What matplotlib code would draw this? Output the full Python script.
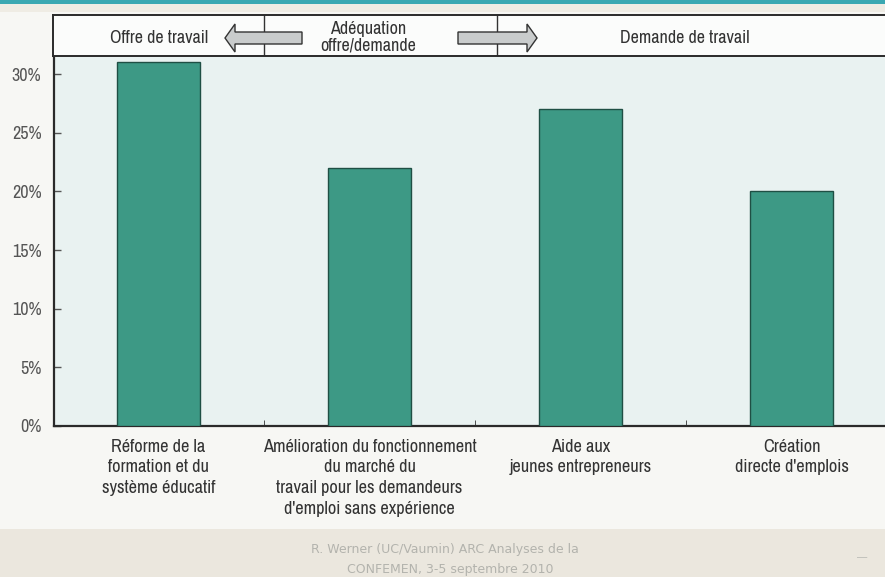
import matplotlib
matplotlib.use("Agg")
import matplotlib.pyplot as plt
from matplotlib.patches import Rectangle, Polygon
from matplotlib import font_manager

names = sorted({f.name for f in font_manager.fontManager.ttflist})
narrow = [n for n in names if ("Narrow" in n or "Condensed" in n)]
primary = narrow[0] if narrow else "Roboto"
plt.rcParams['font.family'] = [primary, 'DejaVu Sans']

categories = [
    "Réforme de la\nformation et du\nsystème éducatif",
    "Amélioration du fonctionnement\ndu marché du\ntravail pour les demandeurs\nd'emploi sans expérience",
    "Aide aux\njeunes entrepreneurs",
    "Création\ndirecte d'emplois",
]
values = [31, 22, 27, 20]
yticks = [0, 5, 10, 15, 20, 25, 30]
ytick_labels = ["0%", "5%", "10%", "15%", "20%", "25%", "30%"]
header_left = "Offre de travail"
header_mid = ["Adéquation", "offre/demande"]
header_right = "Demande de travail"
source = ["R. Werner (UC/Vaumin) ARC Analyses de la", "CONFEMEN, 3-5 septembre 2010"]

W, H = 885, 577
fig = plt.figure(figsize=(W / 100, H / 100), dpi=100)
fig.patch.set_facecolor("#f7f7f4")

def fx(px):
    return px / W

def fy(py):
    return 1 - py / H

# background decorations
fig.patches.append(Rectangle((0, 0), 1, fy(529), transform=fig.transFigure,
                             facecolor="#ebe7de", edgecolor="none", zorder=0))
fig.patches.append(Rectangle((0, fy(4)), 1, 4 / H, transform=fig.transFigure,
                             facecolor="#3aa8b2", edgecolor="none", zorder=0))
fig.patches.append(Rectangle((0, fy(12)), 1, 8 / H, transform=fig.transFigure,
                             facecolor="#efece4", edgecolor="none", zorder=0))

# main axes
ax = fig.add_axes([fx(54), fy(426), fx(885 - 54), (426 - 56) / H])
ax.set_facecolor("#e9f2f1")
x = list(range(len(categories)))
ax.bar(x, values, width=0.39, color="#3d9985", edgecolor="#1f4f44", linewidth=1.0, zorder=3)
ax.set_xlim(-0.495, 3.443)
ax.set_ylim(0, 31.55)
ax.set_yticks(yticks)
ax.set_yticklabels(ytick_labels)
ax.set_xticks(x)
ax.set_xticklabels(categories, fontsize=13.2, color="#333333", linespacing=1.36, va="top")
ax.set_xticks([0.5, 1.5, 2.5], minor=True)
ax.tick_params(axis="x", which="major", length=0, pad=9)
ax.tick_params(axis="x", which="minor", direction="in", length=4, color="#333333")
ax.tick_params(axis="y", direction="in", length=5, width=1, color="#555555",
               labelsize=13, labelcolor="#555555", pad=9)
for s in ["top", "right"]:
    ax.spines[s].set_visible(False)
for s in ["left", "bottom"]:
    ax.spines[s].set_linewidth(1.6)
    ax.spines[s].set_color("#2a2a2a")

# header band
hx = fig.add_axes([fx(53), fy(56), fx(885 - 53), (56 - 15) / H])
hx.set_xlim(53, 885)
hx.set_ylim(56, 15)
hx.set_facecolor("#fbfcfb")
hx.set_xticks([])
hx.set_yticks([])
for s in ["top", "bottom", "left"]:
    hx.spines[s].set_color("#2a2a2a")
    hx.spines[s].set_linewidth(1.4)
hx.spines["right"].set_visible(False)
hx.axvline(264, color="#333333", lw=1.0)
hx.axvline(497, color="#333333", lw=1.0)
hx.text(159, 38, header_left, ha="center", va="center", fontsize=13, color="#333333")
hx.text(368, 29, header_mid[0], ha="center", va="center", fontsize=13, color="#333333")
hx.text(368, 46, header_mid[1], ha="center", va="center", fontsize=13, color="#333333")
hx.text(685, 38, header_right, ha="center", va="center", fontsize=13, color="#333333")
arrow_l = Polygon([(225, 38), (235, 24), (235, 32), (302, 32), (302, 44), (235, 44), (235, 52)],
                  closed=True, facecolor="#c9cccc", edgecolor="#333333", lw=1.0, zorder=4)
arrow_r = Polygon([(537, 38), (527, 24), (527, 32), (458, 32), (458, 44), (527, 44), (527, 52)],
                  closed=True, facecolor="#c9cccc", edgecolor="#333333", lw=1.0, zorder=4)
hx.add_patch(arrow_l)
hx.add_patch(arrow_r)

fig.text(fx(445), fy(550), source[0], ha="center", va="center", fontsize=9,
         color="#b3b3ad", family="DejaVu Sans")
fig.text(fx(450), fy(570), source[1], ha="center", va="center", fontsize=9,
         color="#b3b3ad", family="DejaVu Sans")
fig.text(fx(862), fy(558), "—", ha="center", va="center", fontsize=9, color="#c2c2bc")

fig.savefig("out.png", dpi=100, facecolor=fig.get_facecolor())
